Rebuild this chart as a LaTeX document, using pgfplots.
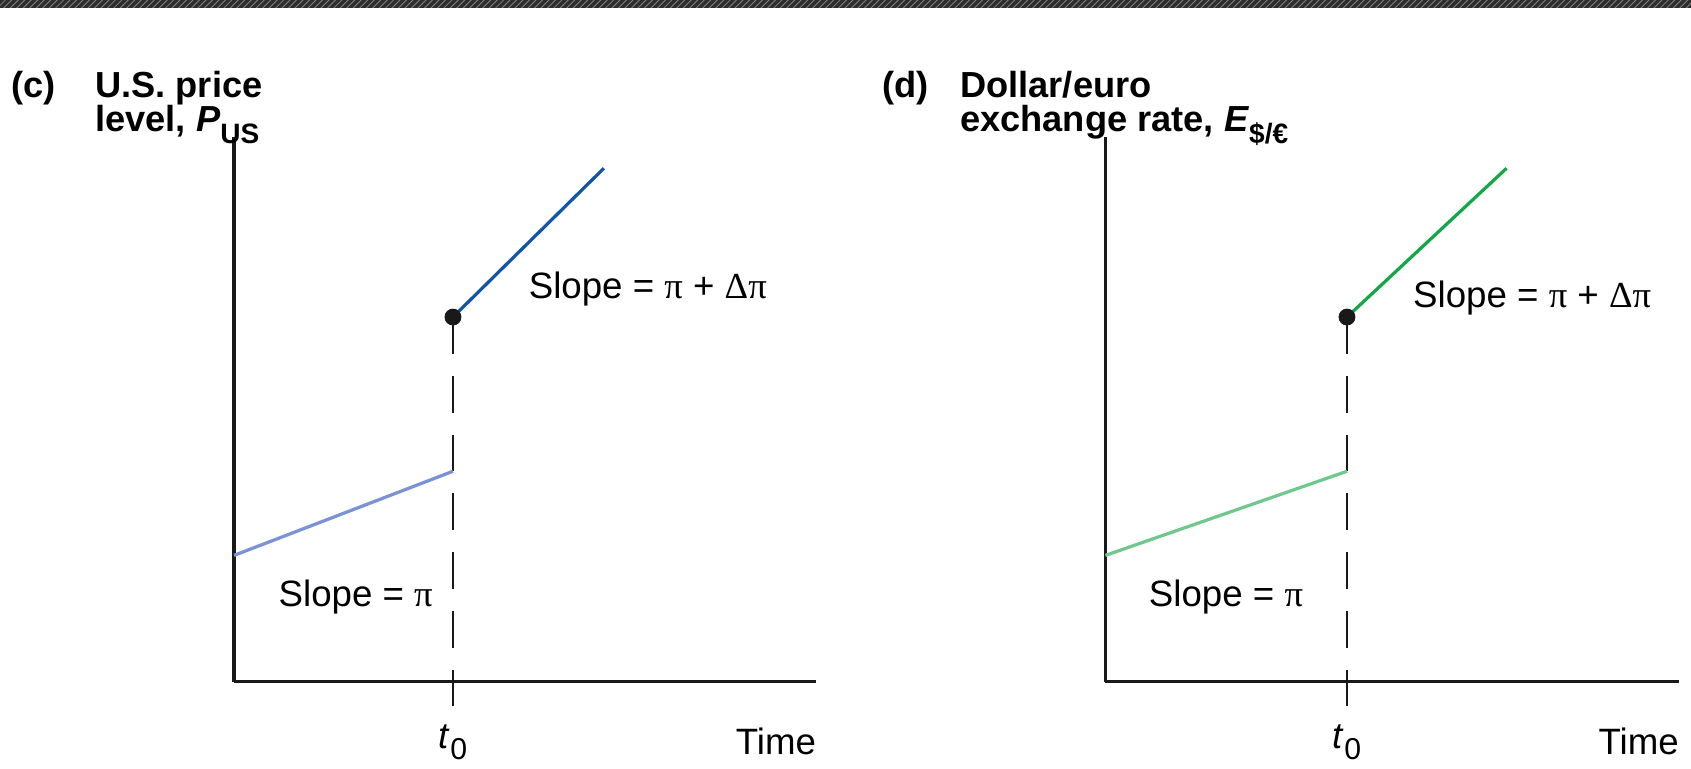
\documentclass[border=0pt]{standalone}
\usepackage{pgfplots}
\pgfplotsset{compat=1.18}
\usepackage{fontspec}
\setmainfont{Liberation Sans}
\newfontfamily\pifont{Liberation Serif}
\usetikzlibrary{patterns}
\definecolor{lblue}{RGB}{122,146,214}
\definecolor{dblue}{RGB}{18,84,168}
\definecolor{lgreen}{RGB}{112,200,142}
\definecolor{dgreen}{RGB}{18,168,72}
\definecolor{band}{RGB}{45,45,45}
\definecolor{ink}{RGB}{25,25,25}
\newcommand{\pii}{{\pifont π}}
\newcommand{\dpii}{{\pifont Δπ}}
\newcommand{\lab}{\fontsize{17}{17}\selectfont}
\newcommand{\ttl}{\bfseries\fontsize{16.8}{16.8}\selectfont}
\pgfplotsset{schem/.style={
  scale only axis, axis lines=left,
  axis line style={-, line width=1.6pt, ink},
  xtick=\empty, ytick=\empty, clip=false,
  ymin=0, ymax=505, height=252.5pt, anchor=south west}}
\tikzset{lb/.style={inner sep=0pt, font=\lab}, tl/.style={inner sep=0pt, font=\ttl, anchor=base west}}
\begin{document}
\begin{tikzpicture}
\path[use as bounding box] (0,0) rectangle (784pt,356.5pt);
\fill[band] (0,352.8pt) rectangle (784pt,356.5pt);
\fill[pattern=north east lines, pattern color=gray] (0,352.8pt) rectangle (784pt,356.5pt);

% ---------- panel (c)
\begin{axis}[schem, at={(108.5pt,40.5pt)}, width=270pt, xmin=0, xmax=540]
\addplot[ink, line width=0.55pt, dash pattern=on 17pt off 10.25pt] coordinates {(203,-23) (203,338)};
\addplot[lblue, line width=1.5pt] coordinates {(0,117) (203,195)};
\addplot[dblue, line width=1.5pt] coordinates {(203,338) (343,476)};
\addplot[only marks, mark=*, mark size=3.7pt, ink] coordinates {(203,338)};
\node[lb, anchor=base west] at (axis cs:273,355) {Slope = \pii{} + \dpii};
\node[lb, anchor=base west] at (axis cs:41,70) {Slope = \pii};
\node[lb, anchor=base] at (axis cs:203,-62) {\textit{t}\raisebox{-5pt}{\fontsize{14}{14}\selectfont 0}};
\node[lb, anchor=base east] at (axis cs:540,-68) {Time};
\node[tl] at (axis cs:-207,542) {(c)};
\node[tl] at (axis cs:-129,542) {U.S. price};
\node[tl] at (axis cs:-129,510) {level, \textit{P}\raisebox{-5.5pt}{\fontsize{13}{13}\selectfont US}};
\end{axis}

% ---------- panel (d)
\begin{axis}[schem, at={(512.5pt,40.5pt)}, width=266pt, xmin=0, xmax=532]
\addplot[ink, line width=0.55pt, dash pattern=on 17pt off 10.25pt] coordinates {(224,-23) (224,338)};
\addplot[lgreen, line width=1.5pt] coordinates {(0,117) (224,195)};
\addplot[dgreen, line width=1.5pt] coordinates {(224,338) (372,476)};
\addplot[only marks, mark=*, mark size=3.7pt, ink] coordinates {(224,338)};
\node[lb, anchor=base west] at (axis cs:285,347) {Slope = \pii{} + \dpii};
\node[lb, anchor=base west] at (axis cs:40,70) {Slope = \pii};
\node[lb, anchor=base] at (axis cs:224,-62) {\textit{t}\raisebox{-5pt}{\fontsize{14}{14}\selectfont 0}};
\node[lb, anchor=base east] at (axis cs:532,-68) {Time};
\node[tl] at (axis cs:-207,542) {(d)};
\node[tl] at (axis cs:-135,542) {Dollar/euro};
\node[tl] at (axis cs:-135,510) {exchange rate, \textit{E}\raisebox{-5.5pt}{\fontsize{13}{13}\selectfont \$/€}};
\end{axis}
\end{tikzpicture}
\end{document}
